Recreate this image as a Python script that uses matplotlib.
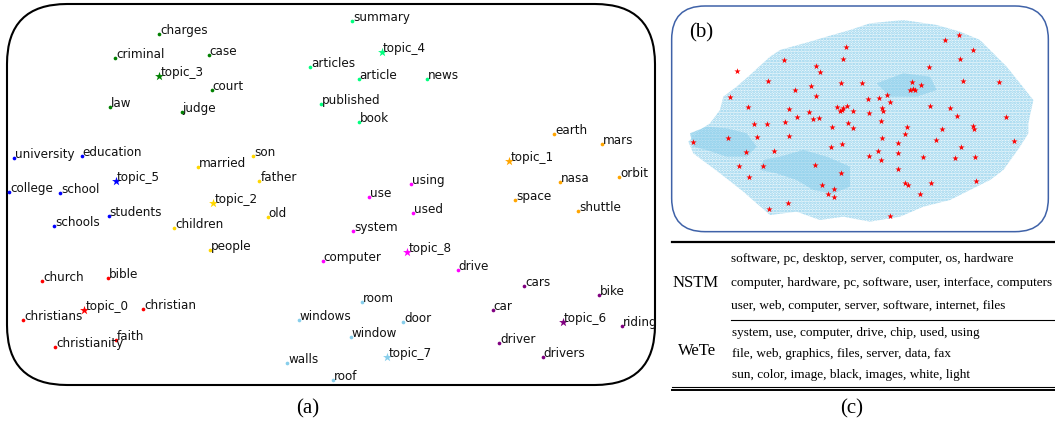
import matplotlib.pyplot as plt
from matplotlib.patches import FancyBboxPatch, Polygon

# ---- panel (a): topic / word embedding positions (pixel coords of the figure)
topics = ['topic_0', 'topic_1', 'topic_2', 'topic_3', 'topic_4',
          'topic_5', 'topic_6', 'topic_7', 'topic_8']
topic_colors = ['red', 'orange', 'gold', 'green', 'springgreen',
                'blue', 'purple', 'skyblue', 'magenta']
topic_x = [84.3, 509.3, 213.3, 159.3, 381.7, 115.7, 562.7, 387.3, 407.3]
topic_y = [310.0, 160.7, 202.7, 76.0, 51.7, 180.7, 321.7, 357.0, 252.0]

words = [
    ['church', 'bible', 'christians', 'christian', 'christianity', 'faith'],
    ['earth', 'mars', 'orbit', 'nasa', 'space', 'shuttle'],
    ['married', 'son', 'father', 'children', 'old', 'people'],
    ['charges', 'criminal', 'case', 'court', 'law', 'judge'],
    ['summary', 'articles', 'article', 'news', 'published', 'book'],
    ['university', 'education', 'college', 'school', 'schools', 'students'],
    ['cars', 'bike', 'car', 'riding', 'driver', 'drivers'],
    ['room', 'windows', 'door', 'window', 'walls', 'roof'],
    ['using', 'use', 'used', 'system', 'computer', 'drive'],
]
word_x = [
    [42.3, 108.3, 23.3, 143.3, 55.3, 116.0],
    [554.3, 601.7, 619.0, 560.0, 515.0, 578.3],
    [198.0, 253.3, 259.3, 174.0, 267.7, 210.0],
    [159.0, 115.0, 208.7, 211.7, 110.0, 181.7],
    [352.3, 310.3, 358.7, 426.7, 320.7, 358.7],
    [14.0, 81.7, 9.3, 60.3, 54.0, 108.7],
    [524.3, 598.7, 492.7, 621.7, 499.3, 542.7],
    [362.3, 299.0, 403.3, 351.0, 287.3, 332.7],
    [410.7, 369.0, 412.7, 353.0, 322.7, 457.7],
]
word_y = [
    [280.7, 277.7, 319.7, 309.0, 346.7, 340.0],
    [133.7, 144.0, 177.0, 181.7, 200.0, 211.3],
    [167.3, 156.0, 181.3, 227.7, 216.7, 250.0],
    [34.3, 57.7, 55.3, 89.7, 107.3, 111.7],
    [21.3, 66.7, 78.7, 79.3, 103.7, 122.0],
    [158.3, 155.7, 192.3, 192.7, 226.0, 215.7],
    [286.0, 295.3, 309.7, 325.7, 342.7, 357.3],
    [302.0, 320.3, 322.0, 337.0, 363.3, 380.0],
    [183.7, 196.7, 213.3, 230.7, 260.7, 270.0],
]

# ---- panel (b): word cloud outline, dense areas and topic stars (zoomed coords)
cloud_x = [55, 90, 120, 150, 160, 200, 240, 300, 330, 420, 470, 540, 600, 700,
           800, 870, 930, 970, 1010, 1050, 1090, 1075, 1075, 1050, 1000, 960,
           900, 840, 760, 690, 600, 520, 450, 380, 300, 260, 220, 150, 110, 70]
cloud_y = [425, 390, 370, 330, 290, 260, 225, 170, 150, 125, 110, 90, 70, 60,
           75, 95, 120, 160, 200, 250, 300, 370, 400, 440, 510, 540,
           570, 600, 620, 650, 665, 650, 660, 635, 645, 610, 575, 520, 490, 460]
dense_left_x = [60, 110, 170, 230, 260, 230, 170, 110, 70]
dense_left_y = [400, 380, 385, 400, 440, 470, 470, 450, 440]
dense_mid_x = [280, 330, 400, 470, 540, 540, 490, 430, 380, 320, 270]
dense_mid_y = [480, 470, 450, 470, 500, 560, 580, 570, 540, 520, 510]
dense_top_x = [620, 700, 780, 800, 740, 660]
dense_top_y = [250, 220, 230, 270, 290, 290]

star_x = [867, 825, 909, 528, 518, 342, 869, 437, 202, 451, 778, 293, 513, 577,
          726, 753, 879, 987, 422, 375, 720, 728, 735, 181, 438, 593, 627, 651,
          233, 357, 501, 519, 530, 510, 515, 550, 417, 597, 637, 639, 661, 779,
          839, 382, 430, 448, 860, 1009, 253, 292, 344, 535, 632, 487, 549, 712,
          816, 909, 913, 70, 173, 261, 357, 637, 705, 798, 1031, 517, 484, 684,
          874, 227, 312, 625, 685, 596, 632, 760, 856, 914, 208, 280, 435, 684,
          514, 237, 706, 714, 784, 919, 455, 491, 473, 493, 750, 355, 296, 661]
star_y = [105, 120, 150, 142, 176, 179, 176, 197, 212, 216, 202, 242, 250, 249,
          247, 256, 244, 247, 258, 269, 269, 266, 269, 291, 288, 296, 295, 286,
          322, 327, 320, 325, 318, 333, 330, 333, 335, 338, 323, 333, 306, 319,
          324, 351, 357, 354, 348, 350, 372, 371, 367, 370, 362, 380, 384, 382,
          387, 377, 387, 425, 414, 411, 407, 415, 403, 421, 424, 432, 442, 430,
          441, 457, 454, 453, 459, 468, 480, 470, 475, 471, 497, 498, 495, 508,
          519, 532, 549, 555, 549, 544, 556, 566, 583, 590, 581, 609, 628, 647]

# ---- panel (c): top words table
nstm_rows = ['software, pc, desktop, server, computer, os, hardware',
             'computer, hardware, pc, software, user, interface, computers',
             'user, web, computer, server, software, internet, files']
wete_rows = ['system, use, computer, drive, chip, used, using',
             'file, web, graphics, files, server, data, fax',
             'sun, color, image, black, images, white, light']

serif = ['Liberation Serif', 'DejaVu Serif']
plt.rcParams['hatch.linewidth'] = 1.3

fig = plt.figure(figsize=(10.55, 4.21), dpi=100)
ax = fig.add_axes([0, 0, 1, 1])
ax.set_xlim(0, 1055)
ax.set_ylim(421, 0)
ax.axis('off')

# panel (a)
ax.add_patch(FancyBboxPatch((7, 4), 648, 381,
                            boxstyle='round,pad=0,rounding_size=60',
                            fc='none', ec='black', lw=1.5))
for i, t in enumerate(topics):
    c = topic_colors[i]
    ax.scatter(word_x[i], word_y[i], s=7, color=c, zorder=3, linewidths=0)
    ax.scatter(topic_x[i], topic_y[i], s=45, marker='*', color=c, zorder=3,
               linewidths=0)
    for w, x, y in zip(words[i] + [t], word_x[i] + [topic_x[i]],
                       word_y[i] + [topic_y[i]]):
        ax.text(x + 1, y, w, fontsize=9.5, fontstretch='condensed',
                color='#111111', ha='left', va='baseline')
ax.text(308, 409, '(a)', fontsize=15, family=serif, ha='center', va='center')

# panel (c)
ax.plot([672, 1055], [242, 242], color='black', lw=1.6)
ax.plot([731, 1055], [320, 320], color='black', lw=0.8)
ax.plot([672, 1055], [386.5, 386.5], color='black', lw=0.8)
ax.plot([672, 1055], [389.5, 389.5], color='black', lw=1.4)
ax.text(673, 283, 'NSTM', fontsize=12, family=serif, ha='left', va='center')
ax.text(678, 351, 'WeTe', fontsize=12, family=serif, ha='left', va='center')
for row, y in zip(nstm_rows, [259, 283, 306]):
    ax.text(731, y, row, fontsize=9.5, family=serif, ha='left', va='center')
for row, y in zip(wete_rows, [333, 354, 375]):
    ax.text(732, y, row, fontsize=9.5, family=serif, ha='left', va='center')
ax.text(852, 409, '(c)', fontsize=15, family=serif, ha='center', va='center')

# panel (b)
axb = fig.add_axes([670 / 1055, 181 / 421, 385 / 1055, 240 / 421])
axb.set_xlim(0, 1155)
axb.set_ylim(720, 0)
axb.axis('off')
axb.add_patch(FancyBboxPatch((5, 18), 1130, 677,
                             boxstyle='round,pad=0,rounding_size=100',
                             fc='none', ec='#3f62a8', lw=1.1))
axb.add_patch(Polygon(list(zip(cloud_x, cloud_y)), closed=True,
                      fc='#eef8fc', ec='#8fd0ec', lw=0, hatch='......'))
for bx, by in [(dense_left_x, dense_left_y), (dense_mid_x, dense_mid_y),
               (dense_top_x, dense_top_y)]:
    axb.add_patch(Polygon(list(zip(bx, by)), closed=True, fc='#b3def2',
                          ec='#87ceeb', lw=0, alpha=0.85, hatch='......'))
axb.scatter(star_x, star_y, s=22, marker='*', color='red', zorder=4,
            linewidths=0)
axb.text(95, 100, '(b)', fontsize=15, family=serif, ha='center', va='center')

fig.savefig('out.png', dpi=100)
